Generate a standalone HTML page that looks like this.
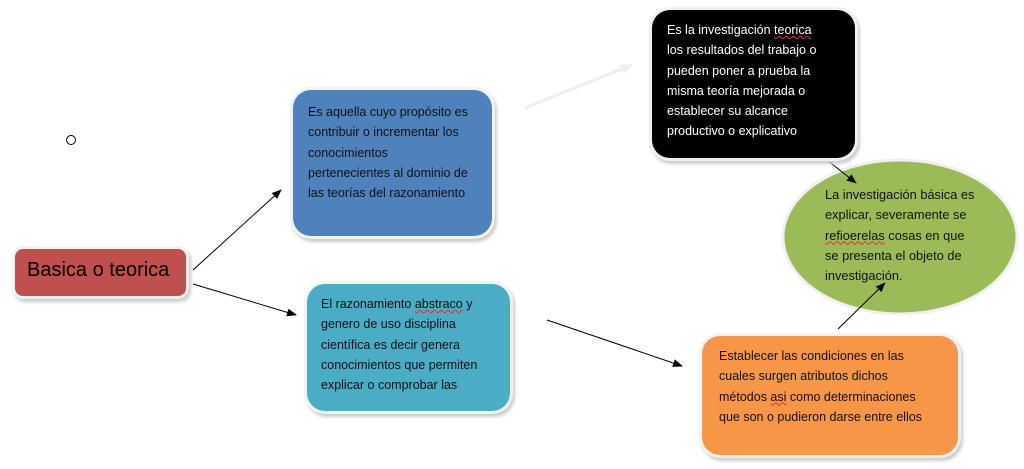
<!DOCTYPE html>
<html><head><meta charset="utf-8"><style>
body{margin:0;width:1024px;height:469px;background:#fff;position:relative;overflow:hidden;font-family:"Liberation Sans",sans-serif}
.b{position:absolute;border-radius:18px;box-sizing:border-box;font-size:12.5px;line-height:20.3px;box-shadow:0 0 0 3px #f2f2f2,2px 3px 3px 3px #ccc}
u{text-decoration:underline wavy #e03030;text-decoration-thickness:1px}
</style></head><body>
<svg width="1024" height="469" style="position:absolute;left:0;top:0">
<defs><marker id="a" markerWidth="10" markerHeight="8" refX="9" refY="4" orient="auto" markerUnits="userSpaceOnUse"><path d="M0,0L10,4L0,8z" fill="#000"/></marker>
<marker id="g" markerWidth="12" markerHeight="10" refX="11" refY="5" orient="auto" markerUnits="userSpaceOnUse"><path d="M0,0L12,5L0,10z" fill="#eee"/></marker></defs>
<ellipse cx="900" cy="237" rx="117" ry="77" fill="#9bbb59" stroke="#f0f0f0" stroke-width="3"/>
<circle cx="71" cy="140" r="4.5" fill="none" stroke="#000" stroke-width="1"/>
<line x1="525" y1="108" x2="632" y2="65" stroke="#eee" stroke-width="3" marker-end="url(#g)"/>
<line x1="193" y1="270" x2="281" y2="190" stroke="#000" marker-end="url(#a)"/>
<line x1="193" y1="284" x2="296" y2="315" stroke="#000" marker-end="url(#a)"/>
<line x1="547" y1="320" x2="682" y2="366" stroke="#000" marker-end="url(#a)"/>
<line x1="822" y1="156" x2="856" y2="183" stroke="#000" marker-end="url(#a)"/>
<line x1="838" y1="329" x2="885" y2="283" stroke="#000" marker-end="url(#a)"/>
</svg>
<div class="b" style="left:15px;top:249px;width:171px;height:47px;background:#c0504d;border-radius:8px;font-size:20px;padding:11px 0 0 12px">Basica o teorica</div>
<div class="b" style="left:293px;top:90px;width:199px;height:146px;background:#4f81bd;padding:12px 0 0 15px;color:#111">Es aquella cuyo propósito es<br>contribuir o incrementar los<br>conocimientos<br>pertenecientes al dominio de<br>las teorías del razonamiento</div>
<div class="b" style="left:307px;top:284px;width:203px;height:127px;background:#4bacc6;padding:10px 0 0 14px;color:#111">El razonamiento <u>abstraco</u> y<br>genero de uso disciplina<br>científica es decir genera<br>conocimientos que permiten<br>explicar o comprobar las</div>
<div class="b" style="left:652px;top:10px;width:203px;height:148px;background:#000;padding:10px 0 0 15px;color:#fff">Es la investigación <u>teorica</u><br>los resultados del trabajo o<br>pueden poner a prueba la<br>misma teoría mejorada o<br>establecer su alcance<br>productivo o explicativo</div>
<div style="position:absolute;left:825px;top:185px;font-size:12.8px;line-height:20.3px;color:#111">La investigación básica es<br>explicar, severamente se<br><u>refioerelas</u> cosas en que<br>se presenta el objeto de<br>investigación.</div>
<div class="b" style="left:702px;top:336px;width:256px;height:119px;background:#f79646;padding:10px 0 0 17px;color:#111">Establecer las condiciones en las<br>cuales surgen atributos dichos<br>métodos <u>asi</u> como determinaciones<br>que son o pudieron darse entre ellos</div>
</body></html>
